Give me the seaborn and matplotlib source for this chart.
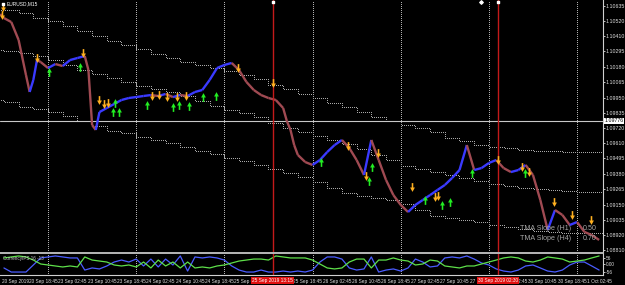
import numpy as np
import pandas as pd
import seaborn as sns
import matplotlib
matplotlib.use("Agg")
import matplotlib.pyplot as plt
from matplotlib.collections import LineCollection
from matplotlib.path import Path
import matplotlib.transforms as mtransforms

sns.set_style("dark")
plt.rcParams['font.family'] = ['Liberation Sans', 'DejaVu Sans']

# ---------------- data (time in trading hours from 23 Sep 2019 00:00) ----------------
price_t = [-13, -12, -10, -8, -6, -5, -4, -3, -2, 0, 2, 4, 6, 8, 10, 11, 12, 13, 14, 16, 18,
           20, 22, 24, 26, 28, 30, 32, 34, 36, 38, 40, 42, 44, 46, 48, 50, 52, 54, 56, 58,
           60, 62, 64, 65, 66, 67, 68, 70, 72, 74, 76, 78, 80, 82, 84, 86, 88, 90, 92, 94,
           96, 98, 100, 102, 104, 106, 108, 110, 112, 114, 116, 118, 120, 122, 124, 126, 128,
           130, 132, 134, 136, 138, 140, 142, 144, 146, 148, 150]
price_close = [1.10575, 1.10545, 1.10515, 1.10381, 1.10119, 1.09992, 1.10082, 1.10231, 1.10216,
               1.10171, 1.10201, 1.10186, 1.10231, 1.10246, 1.10261, 1.10156, 1.09745, 1.09708,
               1.09842, 1.09872, 1.09902, 1.09932, 1.09947, 1.09954, 1.09962, 1.09969, 1.09962,
               1.09977, 1.09954, 1.09969, 1.09962, 1.09992, 1.10007, 1.10082, 1.10171, 1.10194,
               1.10209, 1.10156, 1.10067, 1.10007, 1.09969, 1.09947, 1.09932, 1.09872, 1.09775,
               1.09708, 1.09595, 1.09521, 1.09468, 1.09446, 1.09483, 1.09543, 1.09595, 1.09633,
               1.09573, 1.09483, 1.09371, 1.09633, 1.09483, 1.09334, 1.09221, 1.09147, 1.09094,
               1.09147, 1.09184, 1.09221, 1.09259, 1.09296, 1.09349, 1.09408, 1.09595, 1.09408,
               1.09423, 1.09461, 1.09483, 1.09423, 1.09393, 1.09408, 1.09446, 1.09371, 1.09184,
               1.08960, 1.09109, 1.09072, 1.08997, 1.09019, 1.08945, 1.08922, 1.08885]

band_t = [-16, -12, -8, -4, 0, 4, 8, 12, 16, 20, 24, 28, 32, 36, 40, 44, 48, 52, 56, 60, 64,
          68, 72, 76, 80, 84, 88, 92, 96, 100, 104, 108, 112, 116, 120, 124, 128, 132, 136,
          140, 144, 148, 152]
upper_band = [1.10605, 1.10605, 1.10583, 1.10545, 1.10523, 1.10486, 1.10448, 1.10411, 1.10373,
              1.10343, 1.10313, 1.10276, 1.10246, 1.10216, 1.10194, 1.10171, 1.10149, 1.10119,
              1.10089, 1.10044, 1.10014, 1.09977, 1.09947, 1.09910, 1.09880, 1.09842, 1.09805,
              1.09775, 1.09745, 1.09723, 1.09693, 1.09648, 1.09625, 1.09595, 1.09580, 1.09573,
              1.09558, 1.09550, 1.09550, 1.09543, 1.09543, 1.09543, 1.09543]
middle_band = [1.10306, 1.10299, 1.10284, 1.10261, 1.10231, 1.10194, 1.10156, 1.10126, 1.10097,
               1.10067, 1.10037, 1.10014, 1.09992, 1.09962, 1.09925, 1.09887, 1.09857, 1.09835,
               1.09805, 1.09760, 1.09723, 1.09693, 1.09663, 1.09633, 1.09603, 1.09565, 1.09521,
               1.09483, 1.09438, 1.09416, 1.09393, 1.09371, 1.09349, 1.09326, 1.09304, 1.09289,
               1.09274, 1.09266, 1.09259, 1.09251, 1.09244, 1.09244, 1.09244]
lower_band = [1.09932, 1.09917, 1.09880, 1.09865, 1.09842, 1.09812, 1.09775, 1.09737, 1.09700,
              1.09685, 1.09655, 1.09633, 1.09610, 1.09580, 1.09550, 1.09528, 1.09498, 1.09476,
              1.09446, 1.09416, 1.09386, 1.09356, 1.09319, 1.09274, 1.09236, 1.09214, 1.09199,
              1.09184, 1.09154, 1.09109, 1.09064, 1.09049, 1.09034, 1.09019, 1.08997, 1.08982,
              1.08967, 1.08952, 1.08945, 1.08937, 1.08937, 1.08937, 1.08937]

sell_t = [-12.2, -12.4, -3.0, 9.5, 13.9, 15.2, 16.3, 28.3, 30.2, 32.4, 35.1, 37.6, 51.7, 61.2,
          81.7, 86.6, 89.8, 99.1, 105.3, 106.1, 122.5, 129.0, 130.9, 137.7, 142.6, 147.8]
sell_p = [1.10628, 1.10568, 1.10246, 1.10284, 1.09932, 1.09902, 1.09910, 1.09962, 1.09969,
          1.09954, 1.09954, 1.09962, 1.10171, 1.10059, 1.09588, 1.09364, 1.09536, 1.09281,
          1.09206, 1.09214, 1.09483, 1.09431, 1.09393, 1.09169, 1.09072, 1.09034]
buy_t = [0.3, 8.7, 17.7, 18.2, 19.3, 26.9, 34.0, 35.7, 38.4, 42.2, 45.7, 74.3, 87.4, 88.2,
         102.6, 107.2, 109.4, 115.4, 129.8]
buy_p = [1.10141, 1.10179, 1.09842, 1.09910, 1.09842, 1.09895, 1.09880, 1.09895, 1.09887,
         1.09954, 1.09962, 1.09468, 1.09326, 1.09431, 1.09184, 1.09147, 1.09169, 1.09386,
         1.09386]

osc_t = list(range(-12, 151, 2))
osc_eur = [-36, -73, -73, -73, -9, 55, 64, 73, 64, 55, 55, -55, -36, -45, -18, 18, 36, 18, 45,
           -18, 45, -27, 45, -9, 73, -64, 64, 55, 64, 55, 36, -18, -55, -73, -73, -55, -73, -73,
           -64, -73, -64, -73, -55, 18, 64, 64, 45, -36, -55, -45, 64, -73, -55, -45, -64, -36,
           45, 18, -27, -18, 55, 64, 55, 73, 45, 9, -9, -45, -64, -73, -55, -18, -9, -36, -64,
           -73, -55, -9, 18, 18, -18, -55]
osc_usd = [55, 64, 73, 64, 36, 0, -9, -18, -27, -18, -27, 64, 36, 27, 18, -9, -18, -9, -27, 18,
           -36, 36, -18, 18, -36, 18, -36, -27, -36, -18, -9, 9, 27, 36, 45, 45, 36, 73, 64, 55,
           55, 55, 36, 0, -36, -45, -36, 18, 45, 45, -36, 36, 36, 55, 36, 27, -9, 0, 36, 27,
           -18, -27, -36, -18, -18, 0, 18, 36, 55, 64, 55, 27, 18, 36, 64, 55, 45, 18, 27, 36,
           55, 73]

price_ticks = [1.10635, 1.10520, 1.10410, 1.10295, 1.10180, 1.10065, 1.09950, 1.09835, 1.09720,
               1.09610, 1.09495, 1.09380, 1.09265, 1.09150, 1.09035, 1.08920, 1.08810]
price_tick_labels = ["1.10635", "1.10520", "1.10410", "1.10295", "1.10180", "1.10065", "1.09950",
                     "1.09835", "1.09720", "1.09610", "1.09495", "1.09380", "1.09265", "1.09150",
                     "1.09035", "1.08920", "1.08810"]
current_price = 1.09776

time_ticks = [-12.6, -5.25, 2.75, 10.75, 18.75, 26.75, 34.75, 42.75, 50.75, 66.75, 74.75,
              82.75, 90.75, 98.75, 106.75, 114.75, 122.75, 130.75, 138.75, 146.75]
time_tick_labels = ["20 Sep 2019", "20 Sep 18:45", "23 Sep 02:45", "23 Sep 10:45", "23 Sep 18:45",
                    "24 Sep 02:45", "24 Sep 10:45", "24 Sep 18:45", "25 Sep 02:45",
                    "25 Sep 18:45", "26 Sep 02:45", "26 Sep 10:45", "26 Sep 18:45", "27 Sep 02:45",
                    "27 Sep 10:45", "27 Sep 18:45", "30 Sep 02:45", "30 Sep 10:45", "30 Sep 18:45",
                    "1 Oct 02:45"]
day_grid_t = [0, 24, 48, 72, 96, 120, 144]
vline_t = [61.2, 122.5]
vline_labels = ["25 Sep 2019 13:15", "30 Sep 2019 02:30"]
osc_ticks = [55, 0, -73]
osc_tick_labels = ["56", "0.00", "-56"]

# ---------------- figure ----------------
W, H = 625, 285
fig = plt.figure(figsize=(W / 100, H / 100), dpi=100, facecolor='black')


def box(x0, y0, x1, y1):
    return [x0 / W, 1 - y1 / H, (x1 - x0) / W, (y1 - y0) / H]


ax = fig.add_axes(box(0, 0, 603, 252))
ax2 = fig.add_axes(box(0, 253, 603, 275))
XMIN, XMAX = -13.07, 151.06
for a in (ax, ax2):
    a.set_facecolor('black')
    a.set_xlim(XMIN, XMAX)
    a.grid(False)
    for s in ('left', 'top'):
        a.spines[s].set_visible(False)
    a.spines['right'].set_color('#d0d0d0')
    a.spines['right'].set_linewidth(0.8)
ax.spines['bottom'].set_visible(False)
ax2.spines['bottom'].set_color('#d0d0d0')
ax2.spines['bottom'].set_linewidth(0.8)
ax.set_ylim(1.08795, 1.10680)
ax2.set_ylim(-100, 100)

dots = (0, (1, 1.4))
grid_c = '#b0b0b0'
for a in (ax, ax2):
    for t in day_grid_t:
        a.axvline(t, color=grid_c, lw=0.72, ls=dots, zorder=1, antialiased=False)

# TMA bands (stepped H4 values)
for band in (upper_band, middle_band, lower_band):
    n_before = len(ax.lines)
    sns.lineplot(x=band_t, y=band, ax=ax, color='#a8a8a8', lw=0.72,
                 drawstyle='steps-post', estimator=None, zorder=2)
    for ln in ax.lines[n_before:]:
        ln.set_linestyle(dots)
        ln.set_antialiased(False)

# current price line
ax.axhline(current_price, color='#c8c8c8', lw=0.8, zorder=2)

# price path coloured by direction
pts = np.column_stack([price_t, price_close])
segs = np.stack([pts[:-1], pts[1:]], axis=1)
cols = ['#3a3aff' if b > a else '#a04a52' for a, b in zip(price_close[:-1], price_close[1:])]
ax.add_collection(LineCollection(segs, colors=cols, linewidths=1.7, zorder=3))

# signal arrows
down_verts = [(-0.18, 1), (0.18, 1), (0.18, 0.0), (0.55, 0.0), (0, -1), (-0.55, 0.0), (-0.18, 0.0), (-0.18, 1)]
up_verts = [(x, -y) for x, y in down_verts]
down_arrow = Path(down_verts, closed=True)
up_arrow = Path(up_verts, closed=True)
sns.scatterplot(x=sell_t, y=sell_p, ax=ax, marker=down_arrow, s=40, color='#ffb020',
                linewidth=0, zorder=5)
sns.scatterplot(x=buy_t, y=buy_p, ax=ax, marker=up_arrow, s=40, color='#22ee22',
                linewidth=0, zorder=5)

# vertical red lines
for a in (ax, ax2):
    for t in vline_t:
        a.axvline(t, color='#c41a1a', lw=1.0, zorder=4)
ax.scatter(vline_t, [1.10668, 1.10668], marker='s', s=3, color='white', zorder=6)
ax.scatter([117.9], [1.10668], marker='D', s=3, color='white', zorder=6)

# right price axis
ax.yaxis.tick_right()
ax.set_yticks(price_ticks, labels=price_tick_labels)
ax.tick_params(axis='y', colors='#e0e0e0', labelsize=3.8, length=1.5, width=0.6, pad=0.6)
ax.set_xticks([])
trans = mtransforms.blended_transform_factory(ax.transAxes, ax.transData)
ax.text(1.003, current_price, "1.09776", transform=trans, ha='left', va='center', fontsize=3.8,
        color='black', bbox=dict(boxstyle='square,pad=0.1', fc='white', ec='none'),
        clip_on=False, zorder=10)

# text overlays
ax.scatter([-12.2], [1.10650], marker='s', s=2, color='white', zorder=6)
ax.text(7 / 603, 1 - 4 / 252, "EURUSD,M15", transform=ax.transAxes, fontsize=3.5,
        color='white', ha='left', va='center')
ax.text(520 / 603, 1 - 228 / 252, "TMA Slope (H1)", transform=ax.transAxes, fontsize=5.1,
        color='#a8a8a8', ha='left', va='center')
ax.text(583 / 603, 1 - 228 / 252, "0.50", transform=ax.transAxes, fontsize=5.1,
        color='#a8a8a8', ha='left', va='center')
ax.text(520 / 603, 1 - 238 / 252, "TMA Slope (H4)", transform=ax.transAxes, fontsize=5.1,
        color='#a8a8a8', ha='left', va='center')
ax.text(583 / 603, 1 - 238 / 252, "0.70", transform=ax.transAxes, fontsize=5.1,
        color='#a8a8a8', ha='left', va='center')

# oscillator sub-window
sns.lineplot(x=osc_t, y=osc_eur, ax=ax2, color='#4a5cff', lw=0.9, estimator=None)
sns.lineplot(x=osc_t, y=osc_usd, ax=ax2, color='#5ee04a', lw=0.9, estimator=None)
ax2.yaxis.tick_right()
ax2.set_yticks(osc_ticks, labels=osc_tick_labels)
ax2.tick_params(axis='y', colors='#e0e0e0', labelsize=3.4, length=1.5, width=0.6, pad=0.6)
ax2.set_xticks(time_ticks, labels=time_tick_labels)
ax2.tick_params(axis='x', colors='#e0e0e0', labelsize=3.4, length=1.5, width=0.6, pad=1.2)
for lbl in ax2.get_xticklabels():
    lbl.set_horizontalalignment('left')
ax2.set_xlabel('')
ax2.set_ylabel('')
ax.set_xlabel('')
ax.set_ylabel('')
ax2.text(3 / 603, 0.75, "CurrencyIPS 16 -13", transform=ax2.transAxes, fontsize=3.3,
         color='#c8c8c8', ha='left', va='center')
tb = mtransforms.blended_transform_factory(ax2.transData, ax2.transAxes)
for t, lab in zip(vline_t, vline_labels):
    ax2.text(t, -0.24, lab, transform=tb, ha='center', va='center', fontsize=3.4, color='white',
             bbox=dict(boxstyle='square,pad=0.25', fc='#e01010', ec='none'), clip_on=False,
             zorder=20)

# separator between windows
fig.add_artist(plt.Line2D([0, 603 / W], [1 - 252.5 / H, 1 - 252.5 / H], color='#b8b8b8', lw=1.4))

fig.savefig('out.png', dpi=100, facecolor='black')
